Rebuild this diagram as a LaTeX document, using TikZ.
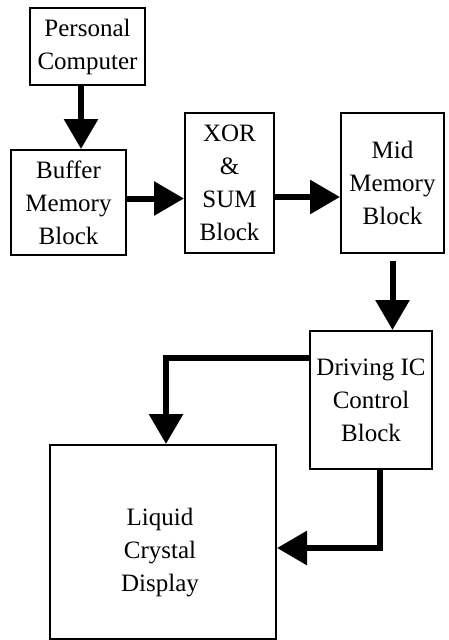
\documentclass[tikz,border=0pt]{standalone}
\usepackage{fontspec}
\setmainfont{Liberation Serif}
\usetikzlibrary{arrows.meta}
\begin{document}
\begin{tikzpicture}[
        x=1pt, y=-1pt,
        font=\fontsize{25}{33}\selectfont,
        block/.style={rectangle, draw, line width=2pt, align=center, inner sep=0pt},
        flow/.style={draw, line width=6pt, -{Triangle[length=30pt, width=33pt]}}
    ]
        \useasboundingbox (0,0) rectangle (449,640);
        \node[block, minimum width=115pt, minimum height=77pt] (pc) at (87.5,46.5) {Personal\\Computer};
        \node[block, minimum width=115pt, minimum height=105pt] (buf) at (68.5,202.5) {Buffer\\Memory\\Block};
        \node[block, minimum width=89pt, minimum height=140pt] (xor) at (229.5,183) {XOR\\\&\\SUM\\Block};
        \node[block, minimum width=103pt, minimum height=140pt] (mid) at (392.5,183) {Mid\\Memory\\Block};
        \node[block, minimum width=122pt, minimum height=138pt] (drv) at (371,400) {Driving IC\\Control\\Block};
        \node[block, minimum width=226pt, minimum height=194pt,
            label={[align=center, yshift=-11pt, xshift=-3pt]center:Liquid\\Crystal\\Display}] (lcd) at (163,542) {};
        \coordinate (b1) at ([yshift=4pt]buf.east);
        \coordinate (d1) at ([yshift=-28pt]drv.north west);
        \draw[flow] ([xshift=-6.5pt]pc.south) -- ([xshift=12.5pt]buf.north);
        \draw[flow] (b1) -- (b1 -| xor.west);
        \draw[flow] ([yshift=-14pt]xor.east) -- ([yshift=-14pt]mid.west);
        \draw[flow, shorten <=7pt] (mid.south) -- (mid.south |- drv.north);
        \draw[flow] (d1) -| ([xshift=3pt]lcd.north);
        \draw[flow] ([xshift=9pt]drv.south) |- ([yshift=-6pt]lcd.east);
    \end{tikzpicture}
\end{document}
